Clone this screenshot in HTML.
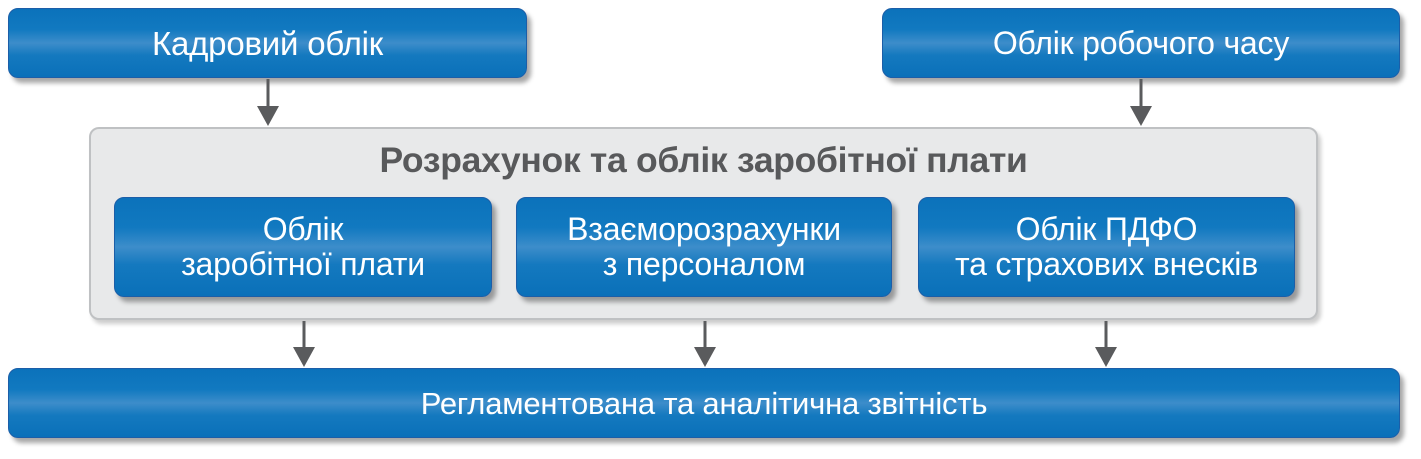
<!DOCTYPE html>
<html><head><meta charset="utf-8"><style>
body{margin:0;width:1421px;height:459px;background:#fff;position:relative;overflow:hidden;font-family:"Liberation Sans","DejaVu Sans",sans-serif}
.b{position:absolute;box-sizing:border-box;border:1.5px solid #1c5ea8;border-radius:10px;
background:linear-gradient(to bottom,#0b72bb 0%,#1179c0 30%,#3d8dca 50%,#1479bf 68%,#0a70b9 100%);
box-shadow:4px 5px 5px rgba(0,0,0,0.35);color:#fff;display:flex;align-items:center;justify-content:center;text-align:center;font-size:32px;line-height:35px;letter-spacing:-0.2px}
.g{position:absolute;left:89px;top:127px;width:1229px;height:193px;box-sizing:border-box;border:2px solid #bfc1c3;border-radius:10px;background:#e8e9ea;box-shadow:3px 4px 4px rgba(0,0,0,0.2)}
.t{position:absolute;left:89px;width:1229px;top:140px;text-align:center;font-weight:bold;font-size:35.5px;color:#58595b;letter-spacing:-0.3px}
.s{font-size:31px}
</style></head><body>
<div class="b" style="left:8px;top:8px;width:519px;height:70px;font-size:33px">Кадровий облік</div>
<div class="b" style="left:882px;top:8px;width:518px;height:70px;font-size:32px">Облік робочого часу</div>
<div class="g"></div>
<div class="t">Розрахунок та облік заробітної плати</div>
<div class="b" style="left:114px;top:197px;width:378px;height:100px">Облік<br>заробітної плати</div>
<div class="b" style="left:516px;top:197px;width:376px;height:100px">Взаєморозрахунки<br>з персоналом</div>
<div class="b" style="left:918px;top:197px;width:377px;height:100px">Облік ПДФО<br>та страхових внесків</div>
<div class="b s" style="left:8px;top:368px;width:1392px;height:70px">Регламентована та аналітична звітність</div>
<svg width="1421" height="459" style="position:absolute;left:0;top:0" fill="#5a5b5d" stroke="#5a5b5d">
<g stroke-width="3">
<line x1="268" y1="79" x2="268" y2="108"/><line x1="1141" y1="79" x2="1141" y2="108"/>
<line x1="304" y1="321" x2="304" y2="349"/><line x1="705" y1="321" x2="705" y2="349"/><line x1="1106" y1="321" x2="1106" y2="349"/>
</g>
<g stroke="none">
<polygon points="257,106 279,106 268,126"/><polygon points="1130,106 1152,106 1141,126"/>
<polygon points="293,347 315,347 304,367"/><polygon points="694,347 716,347 705,367"/><polygon points="1095,347 1117,347 1106,367"/>
</g></svg>
</body></html>
